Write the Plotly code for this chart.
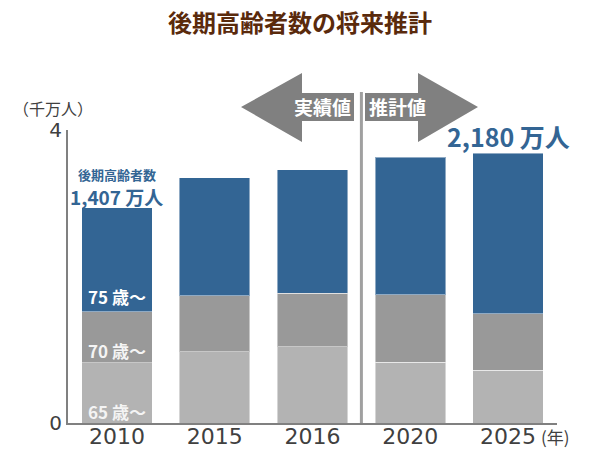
import plotly.graph_objects as go

years = ["2010", "2015", "2016", "2020", "2025"]
age65_69 = [0.82, 0.97, 1.04, 0.83, 0.72]
age70_74 = [0.70, 0.77, 0.73, 0.92, 0.77]
age75plus = [1.42, 1.61, 1.69, 1.88, 2.19]
series_names = ["65 歳〜", "70 歳〜", "75 歳〜"]
colors = ["#b3b3b3", "#999999", "#336594"]

W, H = 600, 450
L, R, T, B = 68, 43, 130, 27
FONT = "Noto Sans CJK JP"

def px(x):
    return (x - L) / (W - L - R)

def py(y):
    return (H - B - y) / (H - T - B)

fig = go.Figure()
for name, vals, col in zip(series_names, [age65_69, age70_74, age75plus], colors):
    fig.add_trace(go.Bar(x=years, y=vals, name=name, marker_color=col,
                         marker_line=dict(color="rgba(255,255,255,0.45)", width=1),
                         showlegend=False, hoverinfo="skip"))

totals = [a + b + c for a, b, c in zip(age65_69, age70_74, age75plus)]
i0 = 0
i4 = len(years) - 1

annotations = []
# segment labels on 2010 bar
annotations.append(dict(x=i0, y=age65_69[0] + age70_74[0], yanchor="bottom", yshift=1,
                        text="<b>75 歳〜</b>", showarrow=False,
                        font=dict(family=FONT, size=17, color="white")))
annotations.append(dict(x=i0, y=age65_69[0], yanchor="bottom", yshift=-2,
                        text="<b>70 歳〜</b>", showarrow=False,
                        font=dict(family=FONT, size=17, color="#f4f4f4")))
annotations.append(dict(x=i0, y=0, yanchor="bottom", yshift=-3,
                        text="<b>65 歳〜</b>", showarrow=False,
                        font=dict(family=FONT, size=17, color="#f4f4f4")))
# total labels
annotations.append(dict(x=i0, y=totals[0], yanchor="bottom", yshift=-4,
                        text="<b>1,407 万人</b>", showarrow=False,
                        font=dict(family=FONT, size=19, color="#336594")))
annotations.append(dict(x=i0, y=totals[0], yanchor="bottom", yshift=22,
                        text="<b>後期高齢者数</b>", showarrow=False,
                        font=dict(family=FONT, size=13, color="#336594")))
annotations.append(dict(x=i4, y=totals[4], yanchor="bottom", yshift=-3,
                        text="<b>2,180 万人</b>", showarrow=False,
                        font=dict(family=FONT, size=25, color="#336594")))
# axis unit labels
annotations.append(dict(xref="paper", yref="paper", x=px(53), y=py(108),
                        text="（千万人）", showarrow=False, xanchor="center", yanchor="middle",
                        font=dict(family=FONT, size=16, color="#404040")))
annotations.append(dict(xref="paper", yref="paper", x=px(539), y=py(436),
                        text="(年)", showarrow=False, xanchor="left", yanchor="middle",
                        font=dict(family=FONT, size=17, color="#404040")))
# arrow labels
annotations.append(dict(xref="paper", yref="paper", x=px(322), y=py(107),
                        xanchor="center", yanchor="middle",
                        text="<b>実績値</b>", showarrow=False,
                        font=dict(family=FONT, size=19, color="white")))
annotations.append(dict(xref="paper", yref="paper", x=px(397), y=py(107),
                        xanchor="center", yanchor="middle",
                        text="<b>推計値</b>", showarrow=False,
                        font=dict(family=FONT, size=19, color="white")))

def path(pts):
    return "M " + " L ".join(f"{px(x)},{py(y)}" for x, y in pts) + " Z"

left_arrow = [(241, 107), (302, 73), (302, 93), (354, 93), (354, 121), (302, 121), (302, 142)]
right_arrow = [(365, 93), (418, 93), (418, 73), (478, 107), (418, 142), (418, 121), (365, 121)]

shapes = [
    dict(type="path", xref="paper", yref="paper", path=path(left_arrow),
         fillcolor="#808080", line=dict(width=0)),
    dict(type="path", xref="paper", yref="paper", path=path(right_arrow),
         fillcolor="#808080", line=dict(width=0)),
    dict(type="line", xref="x", yref="paper", x0=2.5, x1=2.5, y0=0, y1=py(92),
         line=dict(color="#a0a0a0", width=3)),
]

fig.update_layout(
    width=W, height=H,
    margin=dict(l=L, r=R, t=T, b=B, autoexpand=False),
    barmode="stack", bargap=0.28,
    plot_bgcolor="white", paper_bgcolor="white",
    title=dict(text="<b>後期高齢者数の将来推計</b>", x=0.5, xanchor="center",
               y=1 - 24 / H, yanchor="middle",
               font=dict(family=FONT, size=24, color="#5a2a0c")),
    xaxis=dict(type="category", range=[-0.5, 4.5], showline=True, linecolor="#808080",
               linewidth=2, ticks="", showgrid=False, automargin=False,
               ticklabelstandoff=-7,
               tickfont=dict(family="DejaVu Sans", size=22, color="#404040")),
    yaxis=dict(range=[0, 4], tickvals=[0, 4], ticktext=["0", "4"], showline=True,
               linecolor="#808080", linewidth=2, ticks="", showgrid=False, zeroline=False,
               automargin=False,
               tickfont=dict(family="DejaVu Sans", size=20, color="#404040")),
    annotations=annotations,
    shapes=shapes,
)

fig.write_html("out.html", config={"displayModeBar": False},
               post_script="document.body.style.margin='0';")
